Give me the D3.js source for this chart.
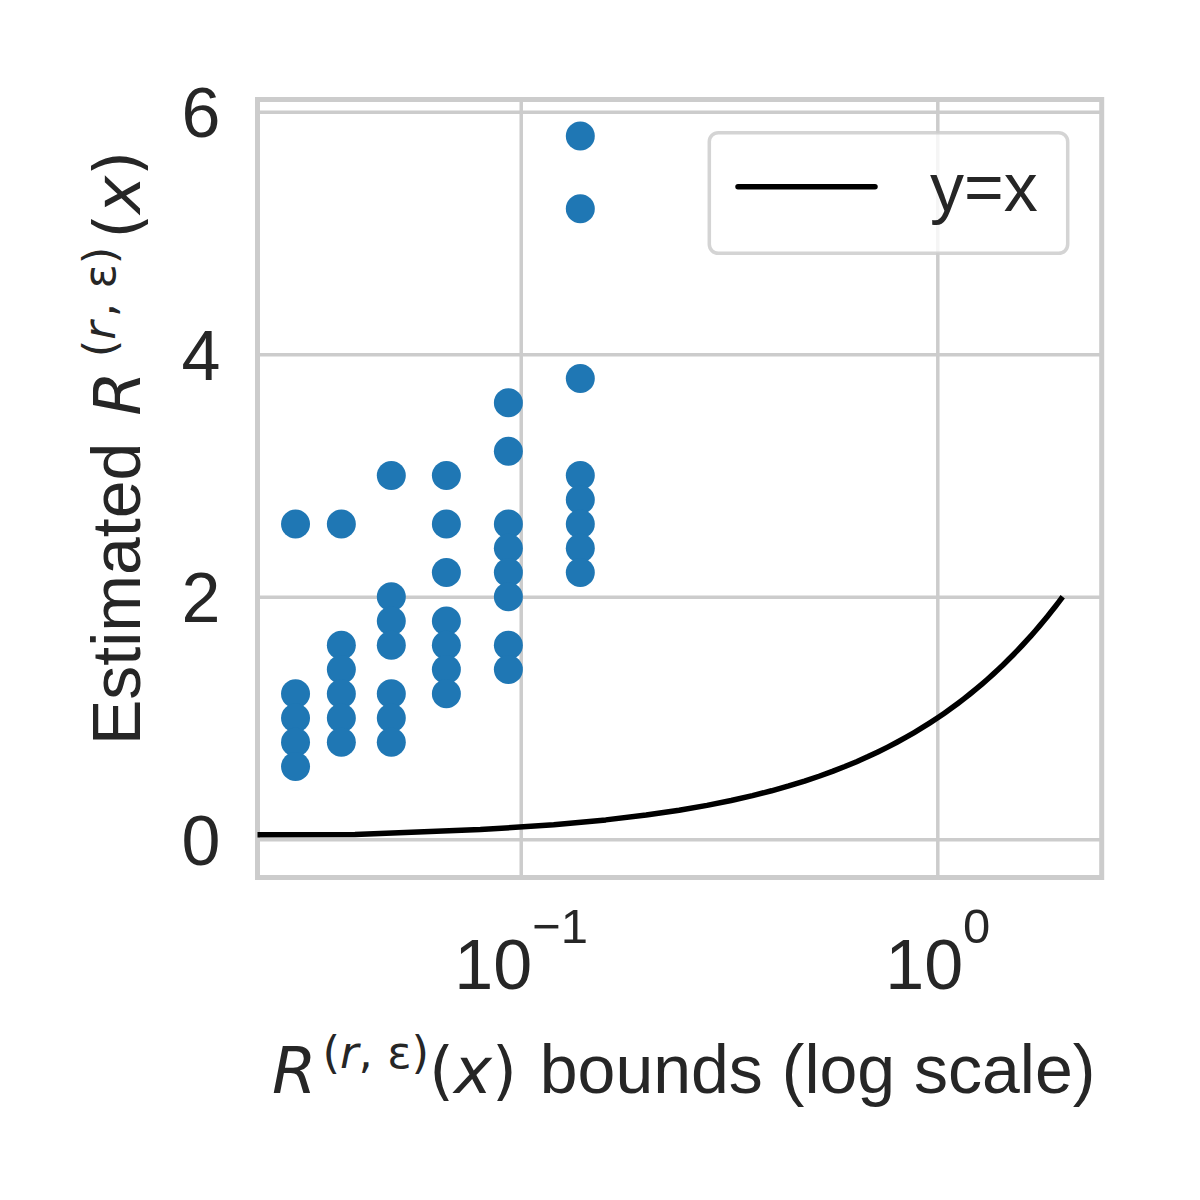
<!DOCTYPE html>
<html>
<head>
    <meta charset="utf-8">
    <script src="https://d3js.org/d3.v7.min.js"></script>
    <style>
        body {
            margin: 0;
            background: #ffffff;
        }
        text {
            font-family: "Liberation Sans", Arial, sans-serif;
            fill: #262626;
        }
        .math {
            font-family: "DejaVu Sans", sans-serif;
        }
    </style>
</head>
<body>
    <div id="my_dataviz"></div>
    <script>
        // bounds on the x axis (log scale), one column of points per bound
        var bounds = [0.0288, 0.0371, 0.0489, 0.0663, 0.0934, 0.139];
        // estimated values for each bound
        var estimates = [
            [2.6, 1.2, 1.0, 0.8, 0.6],
            [2.6, 1.6, 1.4, 1.2, 1.0, 0.8],
            [3.0, 2.0, 1.8, 1.6, 1.2, 1.0, 0.8],
            [3.0, 2.6, 2.2, 1.8, 1.6, 1.4, 1.2],
            [3.6, 3.2, 2.6, 2.4, 2.2, 2.0, 1.6, 1.4],
            [5.8, 5.2, 3.8, 3.0, 2.8, 2.6, 2.4, 2.2]
        ];
        // y=x reference line points
        var refLine = [0, 0.04, 0.08, 0.12, 0.16, 0.2, 0.24, 0.28, 0.32, 0.36, 0.4,
            0.44, 0.48, 0.52, 0.56, 0.6, 0.64, 0.68, 0.72, 0.76, 0.8,
            0.84, 0.88, 0.92, 0.96, 1.0, 1.04, 1.08, 1.12, 1.16, 1.2,
            1.24, 1.28, 1.32, 1.36, 1.4, 1.44, 1.48, 1.52, 1.56, 1.6,
            1.64, 1.68, 1.72, 1.76, 1.8, 1.84, 1.88, 1.92, 1.96, 2.0];
        var yTicks = [0, 2, 4, 6];
        var xTicks = [0.1, 1];
        var xTickExp = ["\u22121", "0"];
        var legendLabel = "y=x";

        // plot area in pixels
        var pL = 257.5, pR = 1101.7, pT = 99.5, pB = 877.5;
        var svg = d3.select("#my_dataviz")
            .append("svg")
            .attr("width", 1200)
            .attr("height", 1200);

        var x = d3.scaleLog()
            .domain([0.02334, 2.481])
            .range([pL, pR]);
        var y = d3.scaleLinear()
            .domain([-0.315, 6.1])
            .range([pB, pT]);

        svg.append("clipPath")
            .attr("id", "plotclip")
            .append("rect")
            .attr("x", pL).attr("y", pT)
            .attr("width", pR - pL).attr("height", pB - pT);

        // grid + y tick labels
        var yAxis = svg.append("g")
            .attr("transform", "translate(" + pL + ",0)")
            .call(d3.axisLeft(y).tickValues(yTicks).tickFormat(d3.format("d"))
                .tickSize(-(pR - pL)).tickPadding(37));
        yAxis.select(".domain").remove();
        yAxis.selectAll("line").attr("stroke", "#cccccc").attr("stroke-width", 3.5);
        yAxis.selectAll("text")
            .attr("font-size", 70)
            .attr("font-family", "Liberation Sans, Arial, sans-serif")
            .attr("fill", "#262626")
            .attr("dy", "0.36em");

        // grid + x tick labels (10^n)
        var xAxis = svg.append("g")
            .attr("transform", "translate(0," + pB + ")")
            .call(d3.axisBottom(x).tickValues(xTicks).tickSize(-(pB - pT)).tickFormat(""));
        xAxis.select(".domain").remove();
        xAxis.selectAll("line").attr("stroke", "#cccccc").attr("stroke-width", 3.5);
        xAxis.selectAll(".tick text").each(function (d, i) {
            var t = d3.select(this)
                .attr("y", 111)
                .attr("dy", null)
                .attr("font-size", 70)
                .attr("font-family", "Liberation Sans, Arial, sans-serif")
                .attr("fill", "#262626")
                .attr("text-anchor", "middle");
            t.append("tspan").text("10");
            t.append("tspan").attr("font-size", 49).attr("dy", -46).text(xTickExp[i]);
        });

        // frame
        svg.append("rect")
            .attr("x", pL).attr("y", pT)
            .attr("width", pR - pL).attr("height", pB - pT)
            .attr("fill", "none")
            .attr("stroke", "#cccccc")
            .attr("stroke-width", 5);

        // y=x line, zero gets pushed far to the left like on a log axis
        svg.append("path")
            .datum(refLine)
            .attr("clip-path", "url(#plotclip)")
            .attr("fill", "none")
            .attr("stroke", "#000000")
            .attr("stroke-width", 5.5)
            .attr("stroke-linejoin", "round")
            .attr("d", d3.line()
                .x(function (d) { return x(Math.max(d, x.domain()[0] / 1000)); })
                .y(function (d) { return y(d); }));

        // scatter points
        var pts = [];
        bounds.forEach(function (b, i) {
            estimates[i].forEach(function (v) { pts.push({ b: b, v: v }); });
        });
        svg.append("g")
            .selectAll("circle")
            .data(pts)
            .enter()
            .append("circle")
            .attr("cx", function (d) { return x(d.b); })
            .attr("cy", function (d) { return y(d.v); })
            .attr("r", 14.5)
            .attr("fill", "#1f77b4");

        // legend
        var lg = svg.append("g");
        lg.append("rect")
            .attr("x", 709.3).attr("y", 132.7)
            .attr("width", 358.4).attr("height", 120.6)
            .attr("rx", 9)
            .attr("fill", "#ffffff").attr("fill-opacity", 0.8)
            .attr("stroke", "#cccccc").attr("stroke-opacity", 0.85)
            .attr("stroke-width", 3.5);
        lg.append("line")
            .attr("x1", 738).attr("x2", 875)
            .attr("y1", 186.7).attr("y2", 186.7)
            .attr("stroke", "#000000")
            .attr("stroke-width", 5.5)
            .attr("stroke-linecap", "round");
        lg.append("text")
            .attr("x", 930).attr("y", 210.7)
            .attr("font-size", 68)
            .text(legendLabel);

        // math part R^(r,eps)(x) shared by both axis labels
        function mathLabel(t, gap) {
            t.append("tspan").attr("class", "math").attr("font-style", "italic").attr("font-size", 64)
                .attr("dx", gap).text("R");
            t.append("tspan").attr("class", "math").attr("font-size", 45).attr("dx", 6 + gap).attr("dy", -25).text("(");
            t.append("tspan").attr("class", "math").attr("font-size", 45).attr("font-style", "italic").text("r");
            t.append("tspan").attr("class", "math").attr("font-size", 45).attr("dx", gap / 2).text(", \u03b5)");
            t.append("tspan").attr("class", "math").attr("font-size", 64).attr("dx", gap).attr("dy", 25).text("(");
            t.append("tspan").attr("class", "math").attr("font-style", "italic").attr("font-size", 64).text("x");
            t.append("tspan").attr("class", "math").attr("font-size", 64).text(")");
        }

        // x label
        var xl = svg.append("text")
            .attr("x", 272).attr("y", 1093)
            .attr("font-size", 68);
        mathLabel(xl, 0);
        xl.append("tspan").attr("dx", 4).text(" bounds (log scale)");

        // y label
        var yl = svg.append("text")
            .attr("transform", "translate(140,745) rotate(-90)")
            .attr("font-size", 68);
        yl.append("tspan").text("Estimated ");
        mathLabel(yl, 8);
    </script>
</body>
</html>
